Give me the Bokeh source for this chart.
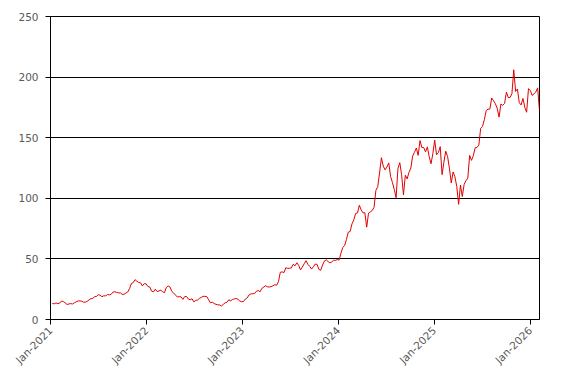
import math
import pandas as pd
from bokeh.plotting import figure
from bokeh.models import FixedTicker, DatetimeTickFormatter, ColumnDataSource
from bokeh.embed import file_html
from bokeh.resources import INLINE

# Weekly (Friday) closing prices
p2021 = [13.3, 12.9, 13.7, 13.0, 13.6, 15.2, 14.8, 13.7, 12.4, 12.8, 13.1, 12.8,
         13.8, 14.6, 15.2, 15.4, 15.0, 14.3, 14.3, 15.1, 16.2, 17.2, 17.5, 18.8, 19.0,
         20.5, 20.0, 18.8, 19.6, 19.5, 20.6, 20.3, 20.8, 22.6, 22.9, 22.4, 21.9, 22.0,
         20.7, 20.8, 21.8, 22.7, 25.5, 29.7, 30.4, 32.9, 31.5, 30.6, 30.2, 27.7, 29.6, 29.4]
p2022 = [27.2, 26.8, 23.4, 22.8, 25.0, 23.0, 23.6, 24.2, 22.9, 22.1, 26.4, 27.7,
         26.8, 23.2, 21.8, 20.2, 18.6, 18.8, 18.7, 16.6, 18.9, 19.0, 16.9, 16.3, 17.1,
         14.5, 15.8, 16.1, 17.4, 18.2, 19.1, 19.1, 18.9, 16.3, 13.7, 14.3, 13.2, 12.5, 12.1,
         12.0, 11.2, 12.5, 13.8, 14.2, 16.3, 15.4, 16.5, 17.0, 17.3, 16.7, 15.2, 14.6]
p2023 = [14.9, 16.9, 17.8, 20.3, 21.1, 21.3, 21.4, 23.3, 23.9, 22.9, 25.7, 26.7, 27.8,
         27.0, 26.8, 27.1, 27.8, 28.7, 28.3, 31.2, 38.9, 39.3, 38.7, 42.7, 42.2, 42.3,
         42.5, 45.5, 44.3, 46.8, 44.6, 40.9, 43.3, 46.0, 48.5, 45.5, 43.9, 41.6, 43.5,
         45.7, 45.5, 41.3, 40.6, 45.0, 48.3, 49.2, 47.8, 46.7, 47.5, 48.9, 48.8, 49.5]
p2024 = [49.0, 54.7, 59.5, 61.0, 66.2, 72.1, 72.6, 78.9, 82.2, 87.5, 87.9, 94.3, 90.4,
         88.0, 88.1, 76.2, 87.8, 88.8, 89.9, 92.5, 106.5, 109.6, 120.9, 133.5, 126.6, 123.5,
         125.8, 129.2, 117.9, 113.1, 107.3, 100.5, 124.6, 129.4, 119.4, 102.8, 119.1, 116.0, 121.4,
         124.9, 134.8, 138.0, 141.5, 135.4, 147.6, 141.9, 141.9, 138.3, 142.4, 134.3, 128.5, 137.0]
p2025 = [148.0, 135.9, 137.7, 142.6, 119.5, 129.8, 138.9, 134.4, 124.9, 112.7, 121.7, 117.7, 109.7,
         95.0, 110.9, 101.5, 111.4, 114.5, 116.7, 135.4, 131.3, 135.1, 141.7, 142.0, 143.9, 157.8,
         159.3, 164.9, 172.4, 173.5, 173.7, 182.7, 180.5, 178.0, 174.2, 167.0, 177.8, 176.7, 178.2,
         187.6, 183.2, 183.2, 186.3, 206.0, 188.2, 190.2, 178.9, 177.0, 182.4, 175.0, 171.0, 190.5]
p2026 = [188.9, 184.9, 186.2, 187.7, 191.1, 172.0]

prices = p2021 + p2022 + p2023 + p2024 + p2025 + p2026
dates = pd.date_range("2021-01-08", periods=len(prices), freq="W-FRI")
tick_years = [2021, 2022, 2023, 2024, 2025, 2026]
y_ticks = [0, 50, 100, 150, 200, 250]

src = ColumnDataSource(dict(date=dates, price=prices))

x_start = pd.Timestamp("2021-01-01")
x_end = pd.Timestamp("2026-02-06")

p = figure(frame_width=489, frame_height=303, x_axis_type="datetime",
           x_range=(x_start, x_end), y_range=(0, 250),
           output_backend="svg", toolbar_location=None,
           min_border_left=50, min_border_top=16, min_border_right=12, min_border_bottom=50)

p.line("date", "price", source=src, line_color="#e00000", line_width=1)

p.outline_line_color = "black"
p.outline_line_width = 1
p.xgrid.grid_line_color = None
p.ygrid.grid_line_color = "black"
p.ygrid.grid_line_width = 1

p.yaxis.ticker = FixedTicker(ticks=y_ticks)
p.xaxis.ticker = FixedTicker(ticks=[pd.Timestamp(f"{y}-01-01").value / 1e6 for y in tick_years])
p.xaxis.formatter = DatetimeTickFormatter(days="%b-%Y", months="%b-%Y", years="%b-%Y")
p.xaxis.major_label_orientation = math.pi / 4

for ax in (p.xaxis, p.yaxis):
    ax.axis_line_color = "black"
    ax.axis_line_width = 1
    ax.major_tick_line_color = "black"
    ax.major_tick_out = 5
    ax.major_tick_in = 0
    ax.minor_tick_line_color = None
    ax.major_label_text_color = "#595959"
    ax.major_label_text_font = "DejaVu Sans"
    ax.major_label_text_font_size = "10.5px"
p.yaxis.major_label_standoff = 7
p.xaxis.major_label_standoff = 4

open("out.html", "w").write(file_html(p, INLINE))
